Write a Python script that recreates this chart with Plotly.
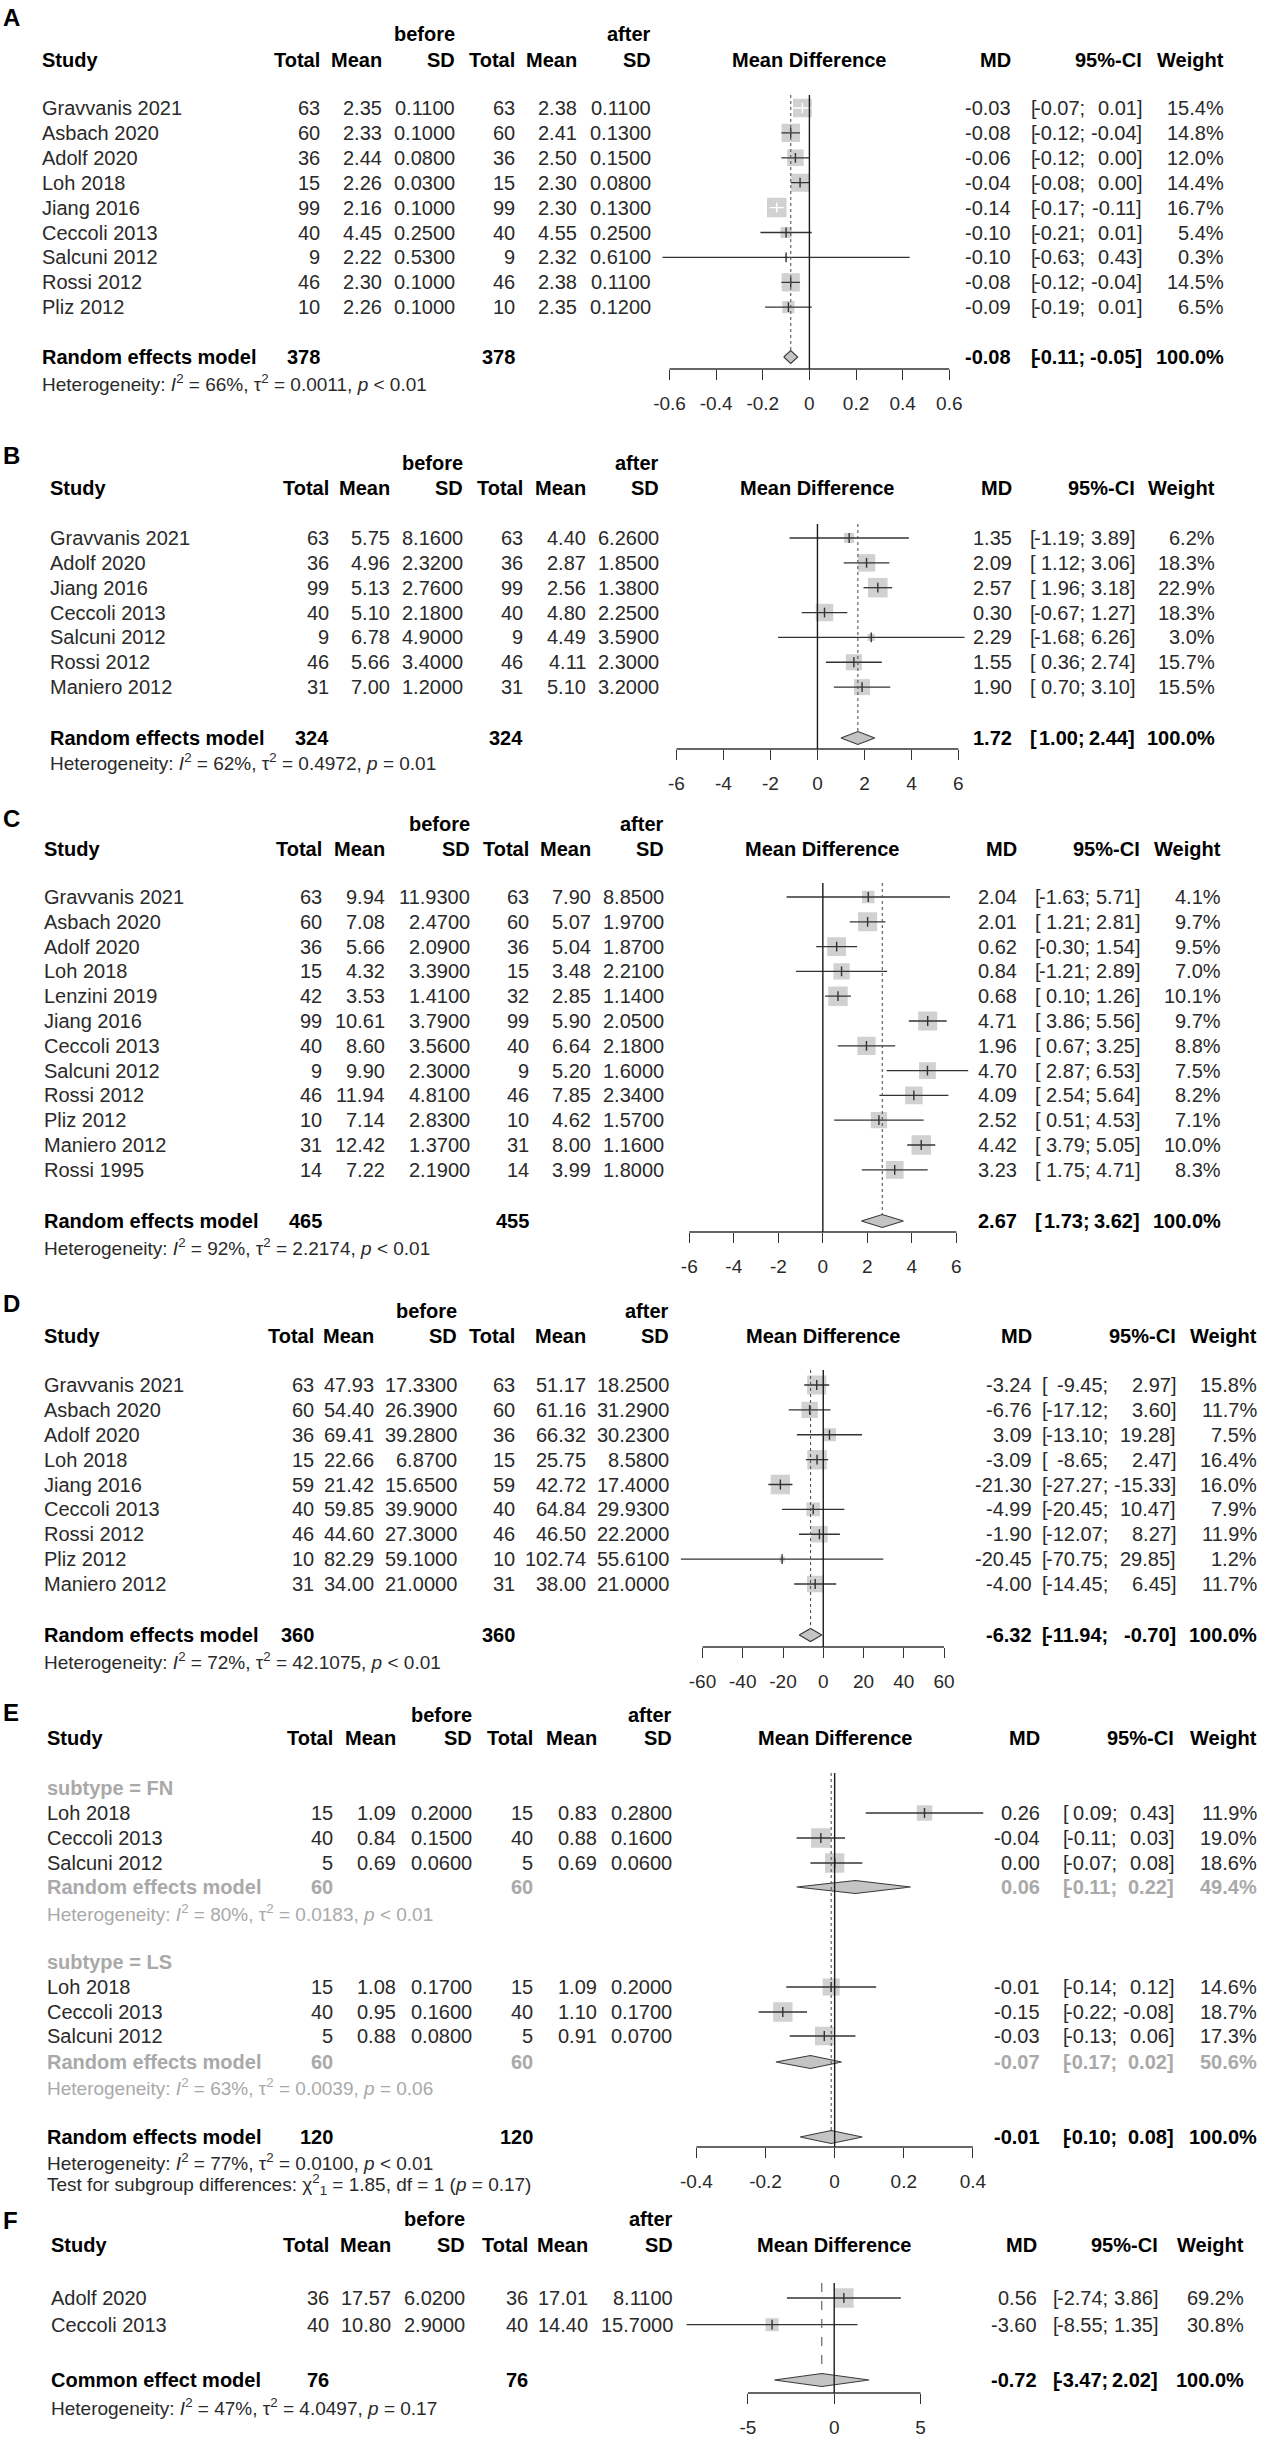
import math
import plotly.graph_objects as go

W, H = 1267, 2442
FONT = "Liberation Sans, Arial, Helvetica, sans-serif"

# ======================= DATA =======================
# ---- Panel A ----
A_study = ["Gravvanis 2021", "Asbach 2020", "Adolf 2020", "Loh 2018", "Jiang 2016",
           "Ceccoli 2013", "Salcuni 2012", "Rossi 2012", "Pliz 2012"]
A_n_before = [63, 60, 36, 15, 99, 40, 9, 46, 10]
A_mean_before = [2.35, 2.33, 2.44, 2.26, 2.16, 4.45, 2.22, 2.30, 2.26]
A_sd_before = [0.11, 0.10, 0.08, 0.03, 0.10, 0.25, 0.53, 0.10, 0.10]
A_n_after = [63, 60, 36, 15, 99, 40, 9, 46, 10]
A_mean_after = [2.38, 2.41, 2.50, 2.30, 2.30, 4.55, 2.32, 2.38, 2.35]
A_sd_after = [0.11, 0.13, 0.15, 0.08, 0.13, 0.25, 0.61, 0.11, 0.12]
A_md = [-0.03, -0.08, -0.06, -0.04, -0.14, -0.10, -0.10, -0.08, -0.09]
A_lower = [-0.07, -0.12, -0.12, -0.08, -0.17, -0.21, -0.63, -0.12, -0.19]
A_upper = [0.01, -0.04, 0.00, 0.00, -0.11, 0.01, 0.43, -0.04, 0.01]
A_weight = [15.4, 14.8, 12.0, 14.4, 16.7, 5.4, 0.3, 14.5, 6.5]
A_pooled = [-0.08, -0.11, -0.05]
A_totals = [378, 378]
A_het = ["66%", "0.0011", "&lt; 0.01"]
A_ticks = [-0.6, -0.4, -0.2, 0, 0.2, 0.4, 0.6]
A_ticklabels = ["-0.6", "-0.4", "-0.2", "0", "0.2", "0.4", "0.6"]

# ---- Panel B ----
B_study = ["Gravvanis 2021", "Adolf 2020", "Jiang 2016", "Ceccoli 2013",
           "Salcuni 2012", "Rossi 2012", "Maniero 2012"]
B_n_before = [63, 36, 99, 40, 9, 46, 31]
B_mean_before = [5.75, 4.96, 5.13, 5.10, 6.78, 5.66, 7.00]
B_sd_before = [8.16, 2.32, 2.76, 2.18, 4.90, 3.40, 1.20]
B_n_after = [63, 36, 99, 40, 9, 46, 31]
B_mean_after = [4.40, 2.87, 2.56, 4.80, 4.49, 4.11, 5.10]
B_sd_after = [6.26, 1.85, 1.38, 2.25, 3.59, 2.30, 3.20]
B_md = [1.35, 2.09, 2.57, 0.30, 2.29, 1.55, 1.90]
B_lower = [-1.19, 1.12, 1.96, -0.67, -1.68, 0.36, 0.70]
B_upper = [3.89, 3.06, 3.18, 1.27, 6.26, 2.74, 3.10]
B_weight = [6.2, 18.3, 22.9, 18.3, 3.0, 15.7, 15.5]
B_pooled = [1.72, 1.00, 2.44]
B_totals = [324, 324]
B_het = ["62%", "0.4972", "= 0.01"]
B_ticks = [-6, -4, -2, 0, 2, 4, 6]
B_ticklabels = ["-6", "-4", "-2", "0", "2", "4", "6"]

# ---- Panel C ----
C_study = ["Gravvanis 2021", "Asbach 2020", "Adolf 2020", "Loh 2018", "Lenzini 2019",
           "Jiang 2016", "Ceccoli 2013", "Salcuni 2012", "Rossi 2012", "Pliz 2012",
           "Maniero 2012", "Rossi 1995"]
C_n_before = [63, 60, 36, 15, 42, 99, 40, 9, 46, 10, 31, 14]
C_mean_before = [9.94, 7.08, 5.66, 4.32, 3.53, 10.61, 8.60, 9.90, 11.94, 7.14, 12.42, 7.22]
C_sd_before = [11.93, 2.47, 2.09, 3.39, 1.41, 3.79, 3.56, 2.30, 4.81, 2.83, 1.37, 2.19]
C_n_after = [63, 60, 36, 15, 32, 99, 40, 9, 46, 10, 31, 14]
C_mean_after = [7.90, 5.07, 5.04, 3.48, 2.85, 5.90, 6.64, 5.20, 7.85, 4.62, 8.00, 3.99]
C_sd_after = [8.85, 1.97, 1.87, 2.21, 1.14, 2.05, 2.18, 1.60, 2.34, 1.57, 1.16, 1.80]
C_md = [2.04, 2.01, 0.62, 0.84, 0.68, 4.71, 1.96, 4.70, 4.09, 2.52, 4.42, 3.23]
C_lower = [-1.63, 1.21, -0.30, -1.21, 0.10, 3.86, 0.67, 2.87, 2.54, 0.51, 3.79, 1.75]
C_upper = [5.71, 2.81, 1.54, 2.89, 1.26, 5.56, 3.25, 6.53, 5.64, 4.53, 5.05, 4.71]
C_weight = [4.1, 9.7, 9.5, 7.0, 10.1, 9.7, 8.8, 7.5, 8.2, 7.1, 10.0, 8.3]
C_pooled = [2.67, 1.73, 3.62]
C_totals = [465, 455]
C_het = ["92%", "2.2174", "&lt; 0.01"]
C_ticks = [-6, -4, -2, 0, 2, 4, 6]
C_ticklabels = ["-6", "-4", "-2", "0", "2", "4", "6"]

# ---- Panel D ----
D_study = ["Gravvanis 2021", "Asbach 2020", "Adolf 2020", "Loh 2018", "Jiang 2016",
           "Ceccoli 2013", "Rossi 2012", "Pliz 2012", "Maniero 2012"]
D_n_before = [63, 60, 36, 15, 59, 40, 46, 10, 31]
D_mean_before = [47.93, 54.40, 69.41, 22.66, 21.42, 59.85, 44.60, 82.29, 34.00]
D_sd_before = [17.33, 26.39, 39.28, 6.87, 15.65, 39.90, 27.30, 59.10, 21.00]
D_n_after = [63, 60, 36, 15, 59, 40, 46, 10, 31]
D_mean_after = [51.17, 61.16, 66.32, 25.75, 42.72, 64.84, 46.50, 102.74, 38.00]
D_sd_after = [18.25, 31.29, 30.23, 8.58, 17.40, 29.93, 22.20, 55.61, 21.00]
D_md = [-3.24, -6.76, 3.09, -3.09, -21.30, -4.99, -1.90, -20.45, -4.00]
D_lower = [-9.45, -17.12, -13.10, -8.65, -27.27, -20.45, -12.07, -70.75, -14.45]
D_upper = [2.97, 3.60, 19.28, 2.47, -15.33, 10.47, 8.27, 29.85, 6.45]
D_weight = [15.8, 11.7, 7.5, 16.4, 16.0, 7.9, 11.9, 1.2, 11.7]
D_pooled = [-6.32, -11.94, -0.70]
D_totals = [360, 360]
D_het = ["72%", "42.1075", "&lt; 0.01"]
D_ticks = [-60, -40, -20, 0, 20, 40, 60]
D_ticklabels = ["-60", "-40", "-20", "0", "20", "40", "60"]

# ---- Panel E (subgroups) ----
E_subgroup = ["FN", "FN", "FN", "LS", "LS", "LS"]
E_study = ["Loh 2018", "Ceccoli 2013", "Salcuni 2012", "Loh 2018", "Ceccoli 2013", "Salcuni 2012"]
E_n_before = [15, 40, 5, 15, 40, 5]
E_mean_before = [1.09, 0.84, 0.69, 1.08, 0.95, 0.88]
E_sd_before = [0.20, 0.15, 0.06, 0.17, 0.16, 0.08]
E_n_after = [15, 40, 5, 15, 40, 5]
E_mean_after = [0.83, 0.88, 0.69, 1.09, 1.10, 0.91]
E_sd_after = [0.28, 0.16, 0.06, 0.20, 0.17, 0.07]
E_md = [0.26, -0.04, 0.00, -0.01, -0.15, -0.03]
E_lower = [0.09, -0.11, -0.07, -0.14, -0.22, -0.13]
E_upper = [0.43, 0.03, 0.08, 0.12, -0.08, 0.06]
E_weight = [11.9, 19.0, 18.6, 14.6, 18.7, 17.3]
E_sub_names = ["FN", "LS"]
E_sub_pooled = [[0.06, -0.11, 0.22], [-0.07, -0.17, 0.02]]
E_sub_weight = [49.4, 50.6]
E_sub_totals = [[60, 60], [60, 60]]
E_sub_het = [["80%", "0.0183", "&lt; 0.01"], ["63%", "0.0039", "= 0.06"]]
E_pooled = [-0.01, -0.10, 0.08]
E_totals = [120, 120]
E_het = ["77%", "0.0100", "&lt; 0.01"]
E_test = ["1.85", "1", "0.17"]
E_ticks = [-0.4, -0.2, 0, 0.2, 0.4]
E_ticklabels = ["-0.4", "-0.2", "0", "0.2", "0.4"]

# ---- Panel F ----
F_study = ["Adolf 2020", "Ceccoli 2013"]
F_n_before = [36, 40]
F_mean_before = [17.57, 10.80]
F_sd_before = [6.02, 2.90]
F_n_after = [36, 40]
F_mean_after = [17.01, 14.40]
F_sd_after = [8.11, 15.70]
F_md = [0.56, -3.60]
F_lower = [-2.74, -8.55]
F_upper = [3.86, 1.35]
F_weight = [69.2, 30.8]
F_pooled = [-0.72, -3.47, 2.02]
F_totals = [76, 76]
F_het = ["47%", "4.0497", "= 0.17"]
F_ticks = [-5, 0, 5]
F_ticklabels = ["-5", "0", "5"]

# ======================= GEOMETRY (pixels) =======================
def rows(first, step, n):
    return [first + step * i for i in range(n)]

GA = dict(label_y=17, before_y=34, header_y=60, row_y=rows(108, 24.9, 9), model_y=357, het_y=383,
          study_x=41, tot1=321, mean1=383, sd1=456, tot2=516, mean2=578, sd2=652,
          mdh=809, md=1012, cie=1143, wt=1225,
          ax=(-0.6, 669.5, 0.6, 949.3), rng=(-0.7, 0.7), axis_y=369, zero_top=95)
GB = dict(label_y=455, before_y=463, header_y=488, row_y=rows(538, 24.85, 7), model_y=738, het_y=762,
          study_x=49, tot1=330, mean1=391, sd1=464, tot2=524, mean2=587, sd2=660,
          mdh=817, md=1013, cie=1136, wt=1216,
          ax=(-6, 676.5, 6, 958.4), rng=(-7, 7), axis_y=749, zero_top=524)
GC = dict(label_y=818, before_y=824, header_y=849, row_y=rows(897, 24.8, 12), model_y=1221, het_y=1247,
          study_x=43, tot1=323, mean1=386, sd1=471, tot2=530, mean2=592, sd2=665,
          mdh=822, md=1018, cie=1141, wt=1222,
          ax=(-6, 689.3, 6, 956.4), rng=(-7, 7), axis_y=1232, zero_top=883)
GD = dict(label_y=1303, before_y=1311, header_y=1336, row_y=rows(1385, 24.875, 9), model_y=1635, het_y=1661,
          study_x=43, tot1=315, mean1=375, sd1=458, tot2=516, mean2=587, sd2=670,
          mdh=823, md=1033, cie=1177, wt=1258,
          ax=(-60, 702.5, 60, 944), rng=(-75, 75), axis_y=1647, zero_top=1370)
GE = dict(label_y=1712, before_y=1715, header_y=1738,
          sub_hdr_y=[1788, 1962], row_y=[1813, 1838, 1863, 1987, 2012, 2036],
          sub_model_y=[1887, 2062], sub_het_y=[1913, 2087],
          model_y=2137, het_y=2162, test_y=2184,
          study_x=46, tot1=334, mean1=397, sd1=473, tot2=534, mean2=598, sd2=673,
          mdh=835, md=1041, cie=1175, wt=1258,
          ax=(-0.4, 696.4, 0.4, 972.9), rng=(-0.5, 0.5), axis_y=2147, zero_top=1773)
GF = dict(label_y=2220, before_y=2219, header_y=2245, row_y=rows(2298, 26.7, 2), model_y=2380, het_y=2407,
          study_x=50, tot1=330, mean1=392, sd1=466, tot2=529, mean2=589, sd2=674,
          mdh=834, md=1038, cie=1159, wt=1245,
          ax=(-5, 747.9, 5, 920.5), rng=(-9, 9), axis_y=2393, zero_top=2283)

FS = 20          # main text size
FS_HET = 19      # heterogeneity text size
FS_TICK = 19
TXT = "#2a2a2a"
BLK = "#000000"
GRAY = "#a9a9a9"
SQ = "#bdbdbd"
DIA = "#c4c4c4"
LINE = "#333333"
MAXSQ = 19.5
DIA_H = 6.5

# Arial / Liberation Sans advance widths (em) for CI column alignment
CHW = {"-": 0.333, ".": 0.278, ";": 0.278, "[": 0.278, "]": 0.278, " ": 0.278}


def tw(s):
    return sum(CHW.get(c, 0.556) for c in s) * FS


fig = go.Figure()
annotations = []
shapes = []
axes = {}


def T(x, y, s, anchor="left", size=FS, bold=False, color=TXT):
    if bold:
        s = "<b>" + s + "</b>"
    annotations.append(dict(x=x / W, y=1 - y / H, xref="paper", yref="paper", text=s,
                            showarrow=False, xanchor=anchor, yanchor="middle", borderpad=0,
                            font=dict(family=FONT, size=size, color=color)))


def set_ci_cols(g, lows, highs):
    wl = max(tw(f"{v:.2f}") for v in lows)
    wh = max(tw(f"{v:.2f}") for v in highs)
    g["cis"] = g["cie"] - (tw(" ") + wh + tw("]"))
    g["cib"] = g["cis"] - (wl + tw(";")) - tw("[")


def xpx(g, v):
    ta, pa, tb, pb = g["ax"]
    return pa + (v - ta) * (pb - pa) / (tb - ta)


def scale(g):
    ta, pa, tb, pb = g["ax"]
    return (pb - pa) / (tb - ta)


def header(g, letter):
    T(2, g["label_y"], letter, size=24, bold=True, color=BLK)
    T(g["sd1"], g["before_y"], "before", "right", bold=True, color=BLK)
    T(g["sd2"], g["before_y"], "after", "right", bold=True, color=BLK)
    hy = g["header_y"]
    T(g["study_x"], hy, "Study", bold=True, color=BLK)
    for key, lab in [("tot1", "Total"), ("mean1", "Mean"), ("sd1", "SD"),
                     ("tot2", "Total"), ("mean2", "Mean"), ("sd2", "SD"),
                     ("md", "MD"), ("cie", "95%-CI"), ("wt", "Weight")]:
        T(g[key], hy, lab, "right", bold=True, color=BLK)
    T(g["mdh"], hy, "Mean Difference", "center", bold=True, color=BLK)


def effect_cells(g, y, md, lo, hi, wtxt, color, bold=False):
    T(g["md"], y, f"{md:.2f}", "right", bold=bold, color=color)
    T(g["cib"], y, "[", "left", bold=bold, color=color)
    T(g["cis"], y, f"{lo:.2f};", "right", bold=bold, color=color)
    T(g["cie"], y, f"{hi:.2f}]", "right", bold=bold, color=color)
    T(g["wt"], y, wtxt, "right", bold=bold, color=color)


def study_row(g, y, st, n1, m1, s1, n2, m2, s2, md, lo, hi, w, color=TXT):
    T(g["study_x"], y, st, "left", color=color)
    T(g["tot1"], y, str(n1), "right", color=color)
    T(g["mean1"], y, f"{m1:.2f}", "right", color=color)
    T(g["sd1"], y, f"{s1:.4f}", "right", color=color)
    T(g["tot2"], y, str(n2), "right", color=color)
    T(g["mean2"], y, f"{m2:.2f}", "right", color=color)
    T(g["sd2"], y, f"{s2:.4f}", "right", color=color)
    effect_cells(g, y, md, lo, hi, f"{w:.1f}%", color)


def model_row(g, y, name, totals, pooled, wtxt, color=BLK):
    T(g["study_x"], y, name, "left", bold=True, color=color)
    T(g["tot1"], y, str(totals[0]), "right", bold=True, color=color)
    T(g["tot2"], y, str(totals[1]), "right", bold=True, color=color)
    effect_cells(g, y, pooled[0], pooled[1], pooled[2], wtxt, color, bold=True)


def het_text(h):
    return ("Heterogeneity: <i>I</i><sup>2</sup> = " + h[0] + ", \u03c4<sup>2</sup> = " + h[1] +
            ", <i>p</i> " + h[2])


def axis(k, g, ticks, labels):
    r0, r1 = g["rng"]
    name = "xaxis" if k == 1 else f"xaxis{k}"
    axes[name] = dict(domain=[xpx(g, r0) / W, xpx(g, r1) / W], range=[r0, r1],
                      anchor="free", position=1 - g["axis_y"] / H, side="bottom",
                      showline=False, showgrid=False, zeroline=False,
                      ticks="outside", ticklen=10, tickwidth=1.2, tickcolor=LINE,
                      tickvals=ticks, ticktext=labels, ticklabelstandoff=7,
                      tickfont=dict(family=FONT, size=FS_TICK, color=TXT), fixedrange=True)
    xr = "x" if k == 1 else f"x{k}"
    shapes.append(dict(type="line", xref=xr, yref="y", x0=ticks[0], x1=ticks[-1],
                       y0=g["axis_y"], y1=g["axis_y"], line=dict(color=LINE, width=1.3)))
    shapes.append(dict(type="line", xref=xr, yref="y", x0=0, x1=0,
                       y0=g["zero_top"], y1=g["axis_y"], line=dict(color="#1a1a1a", width=1.4)))
    return xr


def forest(xr, g, ys, md, lo, hi, w, wmax):
    sides = [MAXSQ * math.sqrt(wi / wmax) for wi in w]
    fig.add_trace(go.Scatter(x=md, y=ys, xaxis=xr, yaxis="y", mode="markers",
                             marker=dict(symbol="square", size=sides, color=SQ, line=dict(width=0)),
                             hoverinfo="skip"))
    sc = scale(g)
    for white in (False, True):
        lx, ly, px, py = [], [], [], []
        for i in range(len(md)):
            inside = (hi[i] - lo[i]) * sc < sides[i]
            if inside != white:
                continue
            lx += [lo[i], hi[i], None]
            ly += [ys[i], ys[i], None]
            px.append(md[i])
            py.append(ys[i])
        if not px:
            continue
        col = "#ffffff" if white else LINE
        fig.add_trace(go.Scatter(x=lx, y=ly, xaxis=xr, yaxis="y", mode="lines",
                                 line=dict(color=col, width=1.3), hoverinfo="skip"))
        fig.add_trace(go.Scatter(x=px, y=py, xaxis=xr, yaxis="y", mode="markers",
                                 marker=dict(symbol="line-ns-open", size=7, color=col,
                                             line=dict(width=1.4, color=col)),
                                 hoverinfo="skip"))


def diamond(xr, y, pooled):
    md, lo, hi = pooled
    fig.add_trace(go.Scatter(x=[lo, md, hi, md, lo], y=[y, y - DIA_H, y, y + DIA_H, y],
                             xaxis=xr, yaxis="y", mode="lines", fill="toself", fillcolor=DIA,
                             line=dict(color="#3a3a3a", width=1.1), hoverinfo="skip"))


def pooled_line(xr, g, x, ybot, dash="dot"):
    shapes.append(dict(type="line", xref=xr, yref="y", x0=x, x1=x, y0=g["zero_top"], y1=ybot,
                       line=dict(color="#555555", width=1.1, dash=dash)))


def simple_panel(k, letter, g, study, n1, m1, s1, n2, m2, s2, md, lo, hi, w,
                 pooled, totals, het, ticks, ticklabels, model_name, dash):
    set_ci_cols(g, lo + [pooled[1]], hi + [pooled[2]])
    header(g, letter)
    for i in range(len(study)):
        study_row(g, g["row_y"][i], study[i], n1[i], m1[i], s1[i], n2[i], m2[i], s2[i],
                  md[i], lo[i], hi[i], w[i])
    model_row(g, g["model_y"], model_name, totals, pooled, "100.0%")
    T(g["study_x"], g["het_y"], het_text(het), "left", size=FS_HET)
    xr = axis(k, g, ticks, ticklabels)
    pooled_line(xr, g, pooled[0], g["model_y"] - DIA_H, dash)
    forest(xr, g, g["row_y"], md, lo, hi, w, max(w))
    diamond(xr, g["model_y"], pooled)


simple_panel(1, "A", GA, A_study, A_n_before, A_mean_before, A_sd_before, A_n_after, A_mean_after,
             A_sd_after, A_md, A_lower, A_upper, A_weight, A_pooled, A_totals, A_het,
             A_ticks, A_ticklabels, "Random effects model", "dot")
simple_panel(2, "B", GB, B_study, B_n_before, B_mean_before, B_sd_before, B_n_after, B_mean_after,
             B_sd_after, B_md, B_lower, B_upper, B_weight, B_pooled, B_totals, B_het,
             B_ticks, B_ticklabels, "Random effects model", "dot")
simple_panel(3, "C", GC, C_study, C_n_before, C_mean_before, C_sd_before, C_n_after, C_mean_after,
             C_sd_after, C_md, C_lower, C_upper, C_weight, C_pooled, C_totals, C_het,
             C_ticks, C_ticklabels, "Random effects model", "dot")
simple_panel(4, "D", GD, D_study, D_n_before, D_mean_before, D_sd_before, D_n_after, D_mean_after,
             D_sd_after, D_md, D_lower, D_upper, D_weight, D_pooled, D_totals, D_het,
             D_ticks, D_ticklabels, "Random effects model", "dot")
simple_panel(6, "F", GF, F_study, F_n_before, F_mean_before, F_sd_before, F_n_after, F_mean_after,
             F_sd_after, F_md, F_lower, F_upper, F_weight, F_pooled, F_totals, F_het,
             F_ticks, F_ticklabels, "Common effect model", "dash")

# ---- Panel E ----
g = GE
all_lo = E_lower + [p[1] for p in E_sub_pooled] + [E_pooled[1]]
all_hi = E_upper + [p[2] for p in E_sub_pooled] + [E_pooled[2]]
set_ci_cols(g, all_lo, all_hi)
header(g, "E")
for j, sub in enumerate(E_sub_names):
    T(g["study_x"], g["sub_hdr_y"][j], "subtype = " + sub, "left", bold=True, color=GRAY)
    idx = [i for i in range(len(E_study)) if E_subgroup[i] == sub]
    for i in idx:
        study_row(g, g["row_y"][i], E_study[i], E_n_before[i], E_mean_before[i], E_sd_before[i],
                  E_n_after[i], E_mean_after[i], E_sd_after[i], E_md[i], E_lower[i], E_upper[i],
                  E_weight[i])
    model_row(g, g["sub_model_y"][j], "Random effects model", E_sub_totals[j], E_sub_pooled[j],
              f"{E_sub_weight[j]:.1f}%", color=GRAY)
    T(g["study_x"], g["sub_het_y"][j], het_text(E_sub_het[j]), "left", size=FS_HET, color=GRAY)
model_row(g, g["model_y"], "Random effects model", E_totals, E_pooled, "100.0%")
T(g["study_x"], g["het_y"], het_text(E_het), "left", size=FS_HET)
T(g["study_x"], g["test_y"], "Test for subgroup differences: \u03c7<sup>2</sup><sub>1</sub> = " + E_test[0] +
  ", df = " + E_test[1] + " (<i>p</i> = " + E_test[2] + ")", "left", size=FS_HET)
xr = axis(5, g, E_ticks, E_ticklabels)
pooled_line(xr, g, E_pooled[0], g["model_y"] - DIA_H, "dot")
forest(xr, g, g["row_y"], E_md, E_lower, E_upper, E_weight, max(E_weight))
for j in range(len(E_sub_names)):
    diamond(xr, g["sub_model_y"][j], E_sub_pooled[j])
diamond(xr, g["model_y"], E_pooled)

fig.update_layout(
    width=W, height=H, autosize=False,
    margin=dict(l=0, r=0, t=0, b=0),
    paper_bgcolor="white", plot_bgcolor="rgba(0,0,0,0)",
    showlegend=False,
    yaxis=dict(range=[H, 0], domain=[0, 1], visible=False, fixedrange=True),
    annotations=annotations, shapes=shapes,
    **axes,
)

fig.write_html("out.html", config={"displayModeBar": False},
               post_script="document.body.style.margin='0';document.body.style.padding='0';"
                           "document.body.style.overflow='hidden';")
